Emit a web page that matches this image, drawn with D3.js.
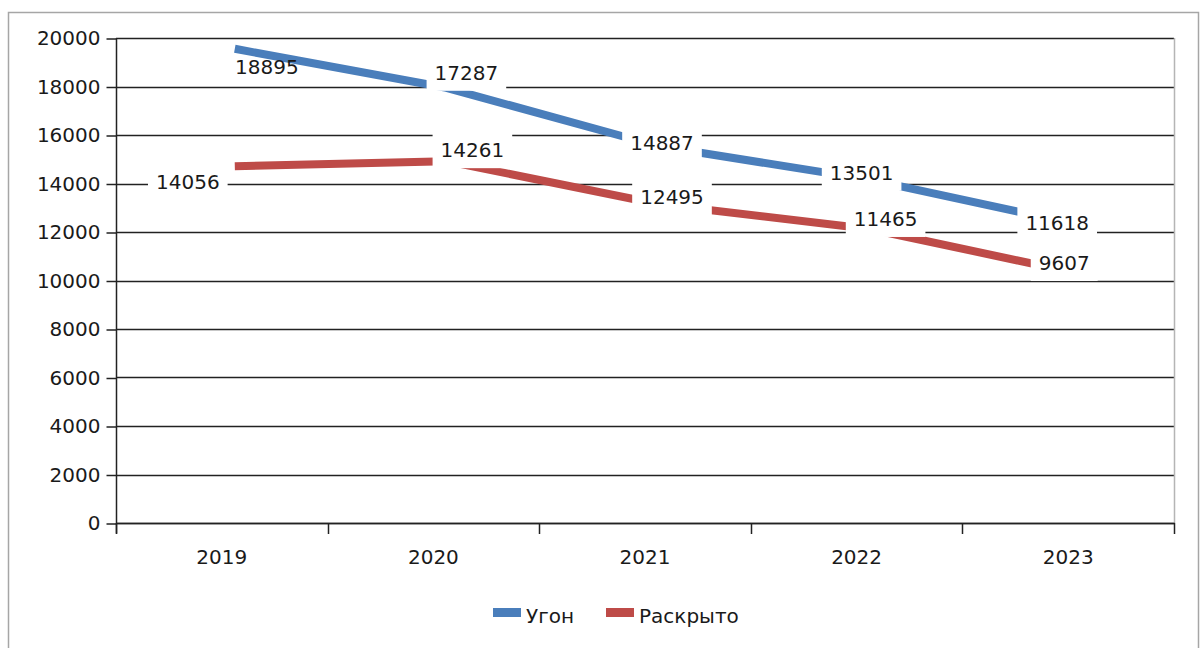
<html>
    <head>
        <meta charset="utf-8">
        <script src="https://d3js.org/d3.v7.min.js"></script>
        <style type="text/css">
            body {
                background: #fff;
                margin: 0;
            }
            svg text {
                font-family: "DejaVu Sans", Verdana, sans-serif;
                font-size: 20px;
                fill: #1a1a1a;
            }
        </style>
    </head>
    <body>
        <svg id="chart" width="1200" height="648"></svg>

        <script type="text/javascript">
        // values
        const years = ["2019", "2020", "2021", "2022", "2023"];
        const ugon = [18895, 17287, 14887, 13501, 11618];
        const raskryto = [14056, 14261, 12495, 11465, 9607];
        const yTicks = [0, 2000, 4000, 6000, 8000, 10000, 12000, 14000, 16000, 18000, 20000];
        const seriesNames = ["Угон", "Раскрыто"];
        const seriesColors = ["#4a7ebb", "#be4b48"];

        // label placement relative to the point (the source moved them by hand)
        const labelShift = [
            [[45, 2], [33, -31], [17, -19], [5, -23], [-11, -18]],
            [[-34, 0], [39, -27], [27, -23], [29, -26], [-4, -27]]
        ];
        // the first blue label had no white box behind it
        const labelBox = [
            [false, true, true, true, true],
            [true, true, true, true, true]
        ];

        const L = 116, R = 1174, T = 38, B = 523;

        const svg = d3.select("#chart");

        // outer frame
        svg.append("rect")
            .attr("x", 8.5).attr("y", 12.5)
            .attr("width", 1190).attr("height", 700)
            .attr("fill", "#fff")
            .attr("stroke", "#a6a6a6")
            .attr("stroke-width", 1.5);

        const x = d3.scaleBand().domain(years).range([L, R]).padding(0);
        const y = d3.scaleLinear().domain([0, 20000]).range([B, T]);

        // grid
        svg.append("g")
            .selectAll("line")
            .data(yTicks)
            .join("line")
            .attr("x1", L).attr("x2", R)
            .attr("y1", d => Math.round(y(d)) + 0.5)
            .attr("y2", d => Math.round(y(d)) + 0.5)
            .attr("stroke", "#222")
            .attr("stroke-width", 1.5);

        // right border of the plot
        svg.append("line")
            .attr("x1", R + 0.5).attr("x2", R + 0.5)
            .attr("y1", T).attr("y2", B)
            .attr("stroke", "#b5b5b5")
            .attr("stroke-width", 1.5);

        // y axis
        const yAxis = svg.append("g")
            .attr("transform", `translate(${L + 0.5},0.5)`)
            .call(d3.axisLeft(y).tickValues(yTicks).tickSize(10).tickPadding(6).tickFormat(d => d));
        yAxis.select(".domain").remove();
        yAxis.selectAll("line").attr("stroke", "#222").attr("stroke-width", 1.5);
        yAxis.selectAll("text")
            .attr("fill", "#1a1a1a")
            .style("font-family", '"DejaVu Sans", Verdana, sans-serif')
            .style("font-size", "20px");
        yAxis.append("line")
            .attr("x1", 0).attr("x2", 0)
            .attr("y1", T - 0.5).attr("y2", B + 10)
            .attr("stroke", "#222").attr("stroke-width", 1.5);

        // x axis: line plus ticks between categories
        const bounds = years.map(d => x(d)).concat([R]);
        svg.append("line")
            .attr("x1", L).attr("x2", R + 1)
            .attr("y1", B + 0.5).attr("y2", B + 0.5)
            .attr("stroke", "#222").attr("stroke-width", 1.5);
        svg.append("g")
            .selectAll("line")
            .data(bounds)
            .join("line")
            .attr("x1", d => Math.round(d) + 0.5)
            .attr("x2", d => Math.round(d) + 0.5)
            .attr("y1", B).attr("y2", B + 11)
            .attr("stroke", "#222").attr("stroke-width", 1.5);
        svg.append("g")
            .selectAll("text")
            .data(years)
            .join("text")
            .attr("x", d => x(d) + x.bandwidth() / 2)
            .attr("y", 564)
            .attr("text-anchor", "middle")
            .text(d => d);

        // series
        const series = [ugon, raskryto];
        const cx = i => x(years[i]) + x.bandwidth() / 2;
        const line = d3.line().x((d, i) => cx(i)).y(d => y(d));

        // the plotted lines sit a little up and right of the labels in the source
        svg.append("g")
            .attr("transform", "translate(13,-16)")
            .selectAll("path")
            .data(series)
            .join("path")
            .attr("d", d => line(d))
            .attr("fill", "none")
            .attr("stroke", (d, i) => seriesColors[i])
            .attr("stroke-width", 8)
            .attr("stroke-linejoin", "round");

        // data labels with white boxes
        const labels = [];
        series.forEach((s, si) => s.forEach((v, i) => {
            labels.push({
                v: v,
                x: cx(i) + labelShift[si][i][0],
                y: y(v) + labelShift[si][i][1],
                box: labelBox[si][i]
            });
        }));
        const lab = svg.append("g")
            .selectAll("g")
            .data(labels)
            .join("g")
            .attr("transform", d => `translate(${d.x},${d.y})`);
        lab.append("text")
            .attr("text-anchor", "middle")
            .attr("dy", "0.36em")
            .text(d => d.v);
        lab.each(function (d) {
            if (!d.box) return;
            const w = d3.select(this).select("text").node().getComputedTextLength();
            d3.select(this).insert("rect", "text")
                .attr("x", -w / 2 - 8).attr("y", -18)
                .attr("width", w + 16).attr("height", 36)
                .attr("fill", "#fff");
        });

        // legend
        const legendX = [493, 606];
        const lg = svg.append("g")
            .selectAll("g")
            .data(seriesNames)
            .join("g")
            .attr("transform", (d, i) => `translate(${legendX[i]},608)`);
        lg.append("rect")
            .attr("width", 28).attr("height", 9)
            .attr("fill", (d, i) => seriesColors[i]);
        lg.append("text")
            .attr("x", 33).attr("y", 14.5)
            .text(d => d);
        </script>
    </body>
</html>
